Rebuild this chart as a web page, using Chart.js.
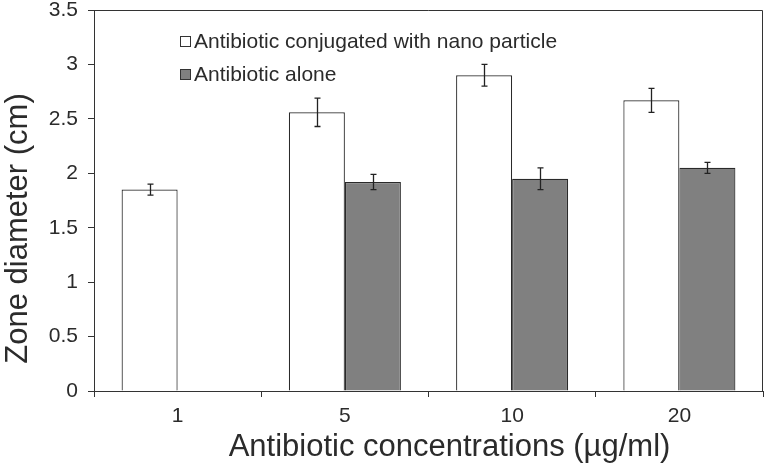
<!DOCTYPE html>
<html>
<head>
<meta charset="utf-8">
<script src="https://cdn.jsdelivr.net/npm/chart.js@4.4.1/dist/chart.umd.min.js"></script>
<style>
  html, body { margin: 0; padding: 0; background: #fff; }
  canvas { display: block; }
</style>
</head>
<body>
<canvas id="chart" width="766" height="470"></canvas>
<script>
// data
const concentrations = ["1", "5", "10", "20"];
const conjugated = [1.85, 2.56, 2.90, 2.67];
const conjugatedErr = [0.05, 0.13, 0.10, 0.11];
const alone = [null, 1.92, 1.95, 2.05];
const aloneErr = [null, 0.07, 0.10, 0.05];
const yTicks = [0, 0.5, 1, 1.5, 2, 2.5, 3, 3.5];

const FONT = "'Liberation Sans', Arial, sans-serif";
const INK = "#2b2b2b";
const LINE = "#333";

// error bars on top of the bars
const errorBars = {
  id: "errorBars",
  afterDatasetsDraw(chart) {
    const ctx = chart.ctx, y = chart.scales.y;
    ctx.save();
    ctx.strokeStyle = "#222";
    ctx.lineWidth = 1.3;
    chart.data.datasets.forEach((ds, i) => {
      chart.getDatasetMeta(i).data.forEach((bar, j) => {
        const v = ds.data[j], e = ds.errors[j];
        if (v == null || e == null) return;
        const x = Math.round(bar.x) + 0.5;
        const t = y.getPixelForValue(v + e), b = y.getPixelForValue(v - e);
        ctx.beginPath();
        ctx.moveTo(x, t); ctx.lineTo(x, b);
        ctx.moveTo(x - 3, t); ctx.lineTo(x + 3, t);
        ctx.moveTo(x - 3, b); ctx.lineTo(x + 3, b);
        ctx.stroke();
      });
    });
    ctx.restore();
  }
};

// top/right frame, legend inside the plot, axis titles
const decor = {
  id: "decor",
  afterDraw(chart) {
    const ctx = chart.ctx, a = chart.chartArea;
    ctx.save();
    ctx.strokeStyle = LINE;
    ctx.lineWidth = 1;
    ctx.beginPath();
    ctx.moveTo(a.left, a.top + 0.5); ctx.lineTo(a.right - 0.5, a.top + 0.5);
    ctx.lineTo(a.right - 0.5, a.bottom);
    ctx.stroke();

    // legend
    ctx.font = "21px " + FONT;
    ctx.textBaseline = "middle";
    chart.data.datasets.forEach((ds, i) => {
      const bx = a.left + 86, cy = a.top + 31 + i * 33;
      ctx.fillStyle = ds.backgroundColor;
      ctx.fillRect(bx, cy - 5, 10, 10);
      ctx.strokeStyle = "#333";
      ctx.strokeRect(bx + 0.5, cy - 4.5, 10, 10);
      ctx.fillStyle = INK;
      ctx.textAlign = "left";
      ctx.fillText(ds.label, bx + 14, cy + 1);
    });

    // axis titles
    ctx.font = "31px " + FONT;
    ctx.textAlign = "center";
    ctx.fillStyle = INK;
    ctx.fillText("Antibiotic concentrations (\u00b5g/ml)", (a.left + a.right) / 2 + 21, a.bottom + 56);
    ctx.translate(18, (a.top + a.bottom) / 2 + 28);
    ctx.rotate(-Math.PI / 2);
    ctx.fillText("Zone diameter (cm)", 0, 0);
    ctx.restore();
  }
};

new Chart(document.getElementById("chart"), {
  type: "bar",
  data: {
    labels: concentrations,
    datasets: [{
      label: "Antibiotic conjugated with nano particle",
      data: conjugated,
      errors: conjugatedErr,
      backgroundColor: "#ffffff",
      borderColor: "#2a2a2a",
      borderWidth: 1.2
    }, {
      label: "Antibiotic alone",
      data: alone,
      errors: aloneErr,
      backgroundColor: "#808080",
      borderColor: "#2a2a2a",
      borderWidth: 1.2
    }]
  },
  options: {
    responsive: false,
    animation: false,
    layout: { padding: { top: 0, right: 3, left: 0, bottom: 0 } },
    categoryPercentage: 0.67,
    barPercentage: 1,
    plugins: { legend: { display: false }, tooltip: { enabled: false } },
    scales: {
      x: {
        offset: true,
        grid: { offset: true, drawOnChartArea: false, tickLength: 6, color: LINE },
        border: { color: LINE },
        ticks: { color: INK, font: { family: FONT, size: 21 }, padding: 7 },
        afterFit(s) { s.height = 79; }
      },
      y: {
        min: 0,
        max: 3.5,
        afterBuildTicks(s) { s.ticks = yTicks.map(v => ({ value: v })); },
        grid: { drawOnChartArea: false, tickLength: 6, color: LINE },
        border: { color: LINE },
        ticks: {
          color: INK,
          font: { family: FONT, size: 21 },
          padding: 10,
          callback: v => String(v)
        },
        afterFit(s) { s.width = 94; s.paddingTop = 10; }
      }
    }
  },
  plugins: [errorBars, decor]
});
</script>
</body>
</html>
